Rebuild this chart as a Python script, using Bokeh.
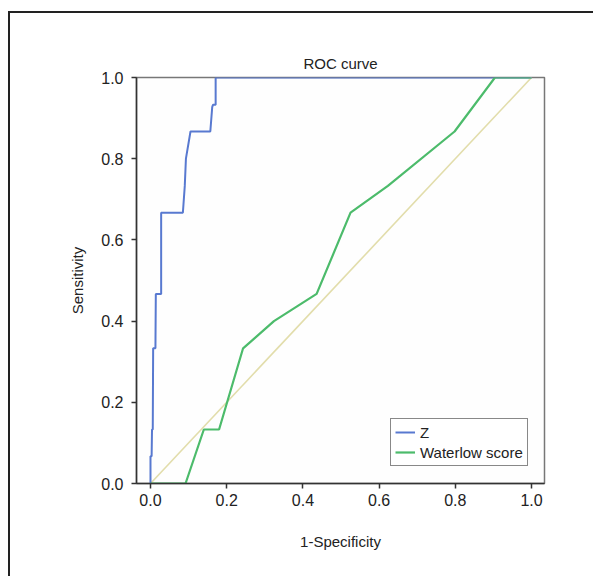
from bokeh.plotting import figure
from bokeh.models import Range1d, FixedTicker, PrintfTickFormatter, Legend, LegendItem
from bokeh.embed import file_html
from bokeh.resources import INLINE

# ---- data ----
z_fpr = [0.0, 0.0, 0.003, 0.004, 0.006, 0.007, 0.013, 0.014, 0.016, 0.028, 0.028,
         0.085, 0.090, 0.093, 0.105, 0.157, 0.162, 0.164, 0.171, 0.171, 1.0]
z_tpr = [0.0, 0.067, 0.067, 0.133, 0.133, 0.333, 0.333, 0.467, 0.467, 0.467, 0.667,
         0.667, 0.733, 0.800, 0.867, 0.867, 0.927, 0.933, 0.933, 1.0, 1.0]

w_fpr = [0.0, 0.092, 0.140, 0.180, 0.243, 0.324, 0.436, 0.525, 0.623, 0.798, 0.904, 1.0]
w_tpr = [0.0, 0.0, 0.133, 0.133, 0.333, 0.400, 0.467, 0.667, 0.733, 0.867, 1.0, 1.0]

ref_x = [0.0, 1.0]
ref_y = [0.0, 1.0]

ticks = [0.0, 0.2, 0.4, 0.6, 0.8, 1.0]
title_text = "ROC curve"
x_label = "1-Specificity"
y_label = "Sensitivity"
series_names = ["Z", "Waterlow score"]

FONT = "Liberation Sans"
BLUE = "#5879d0"
GREEN = "#4cbb6b"
DIAG = "#e2ddab"

W, H = 585, 565
p = figure(width=W, height=H, output_backend="svg", toolbar_location=None,
           x_range=Range1d(-0.0367, 1.034), y_range=Range1d(0, 1),
           min_border_left=126, min_border_right=W - 126 - 408,
           min_border_top=64, min_border_bottom=H - 64 - 406,
           background_fill_color="#fefefe", border_fill_color="white")

p.styles = {"border-left": "2px solid #222", "border-top": "2px solid #222",
            "margin-top": "11px", "margin-left": "8px"}

p.title.text = title_text
p.title.align = "center"
p.title.text_font = FONT
p.title.text_font_size = "15px"
p.title.text_font_style = "normal"
p.title.text_color = "#222"
p.title.standoff = 12

p.outline_line_color = "#777"
p.outline_line_width = 1.5
p.grid.visible = False

for ax in (p.xaxis[0], p.yaxis[0]):
    ax.ticker = FixedTicker(ticks=ticks)
    ax.formatter = PrintfTickFormatter(format="%.1f")
    ax.axis_line_color = "#333"
    ax.axis_line_width = 1.5
    ax.major_tick_line_color = "#333"
    ax.major_tick_line_width = 1.5
    ax.major_tick_out = 5
    ax.major_tick_in = 0
    ax.minor_tick_line_color = None
    ax.major_label_text_font = FONT
    ax.major_label_text_font_size = "16px"
    ax.major_label_text_color = "#222"
    ax.axis_label_text_font = FONT
    ax.axis_label_text_font_size = "15px"
    ax.axis_label_text_font_style = "normal"
    ax.axis_label_text_color = "#222"

p.xaxis.axis_label = x_label
p.yaxis.axis_label = y_label
p.yaxis.major_label_standoff = 8
p.yaxis.axis_label_standoff = 12
p.xaxis.major_label_standoff = 5
p.xaxis.axis_label_standoff = 24

p.line(ref_x, ref_y, line_color=DIAG, line_width=1.6)
rz = p.line(z_fpr, z_tpr, line_color=BLUE, line_width=2)
rw = p.line(w_fpr, w_tpr, line_color=GREEN, line_width=2.2)

legend = Legend(items=[LegendItem(label=series_names[0], renderers=[rz]),
                       LegendItem(label=series_names[1], renderers=[rw])],
                location=(254, 17), orientation="vertical")
legend.border_line_color = "#111"
legend.border_line_width = 1
legend.background_fill_color = "white"
legend.background_fill_alpha = 1
legend.label_text_font = FONT
legend.label_text_font_size = "15px"
legend.label_text_color = "#222"
legend.padding = 4
legend.spacing = 2
legend.margin = 0
legend.glyph_width = 20
legend.glyph_height = 18
legend.label_height = 18
legend.label_standoff = 5
p.add_layout(legend, "center")

open("out.html", "w").write(file_html(p, INLINE))
